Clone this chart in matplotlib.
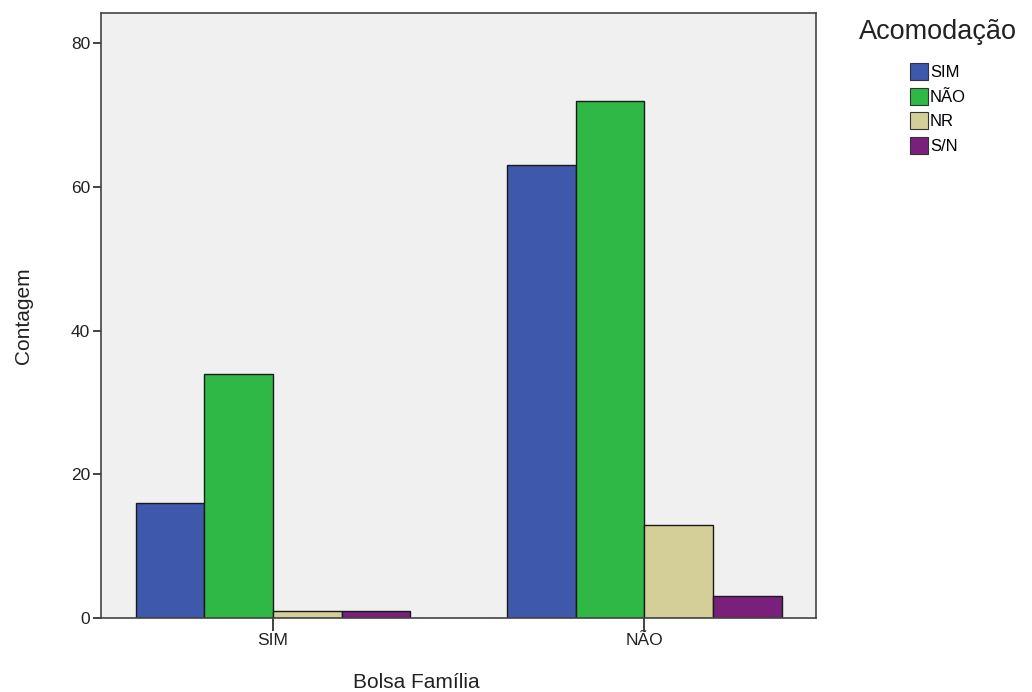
import numpy as np
import matplotlib.pyplot as plt
from matplotlib.patches import Patch

plt.rcParams['font.family'] = ['Liberation Sans', 'DejaVu Sans']

groups = ['SIM', 'NÃO']
series = ['SIM', 'NÃO', 'NR', 'S/N']
counts = {
    'SIM': [16, 63],
    'NÃO': [34, 72],
    'NR': [1, 13],
    'S/N': [1, 3],
}
colors = ['#3E58AC', '#2FB845', '#D4CF98', '#7A1F7C']

fig = plt.figure(figsize=(10.32, 6.92), dpi=100)
ax = fig.add_axes([0.098, 0.107, 0.693, 0.874])
ax.set_facecolor('#F0F0F0')

ind = np.arange(len(groups))
width = 0.185
handles = []
for i, s in enumerate(series):
    x = ind + (i - 2) * width
    ax.bar(x, counts[s], width, align='edge', color=colors[i],
           edgecolor='#1a1a1a', linewidth=1.0)
    handles.append(Patch(facecolor=colors[i], edgecolor='#333333', linewidth=0.8))

ax.set_xlim(-0.463, 1.463)
ax.set_ylim(0, 84.2)
ax.set_yticks([0, 20, 40, 60, 80])
ax.set_xticks(ind)
ax.set_xticklabels(groups)
ax.tick_params(direction='out', width=1.2, labelsize=12.5, colors='#222222', pad=2)
ax.tick_params(axis='y', length=6)
ax.tick_params(axis='x', length=9)
for sp in ax.spines.values():
    sp.set_linewidth(1.2)
    sp.set_color('#444444')

ax.set_ylabel('Contagem', fontsize=15, color='#222222')
ax.set_xlabel('Bolsa Família', fontsize=15, color='#222222')
ax.yaxis.set_label_coords(-0.095, 0.5)
ax.xaxis.set_label_coords(0.44, -0.091)

fig.text(859 / 1032, 1 - 32 / 692, 'Acomodação', fontsize=19.5, color='#222222',
         ha='left', va='center')
leg = fig.legend(handles, series, loc='upper left', bbox_to_anchor=(910 / 1032, 1 - 63 / 692),
                 frameon=False, fontsize=12, handlelength=1.05, handleheight=1.2,
                 handletextpad=0.15, labelspacing=0.45, borderaxespad=0, borderpad=0)

plt.savefig('out.png', dpi=100)
